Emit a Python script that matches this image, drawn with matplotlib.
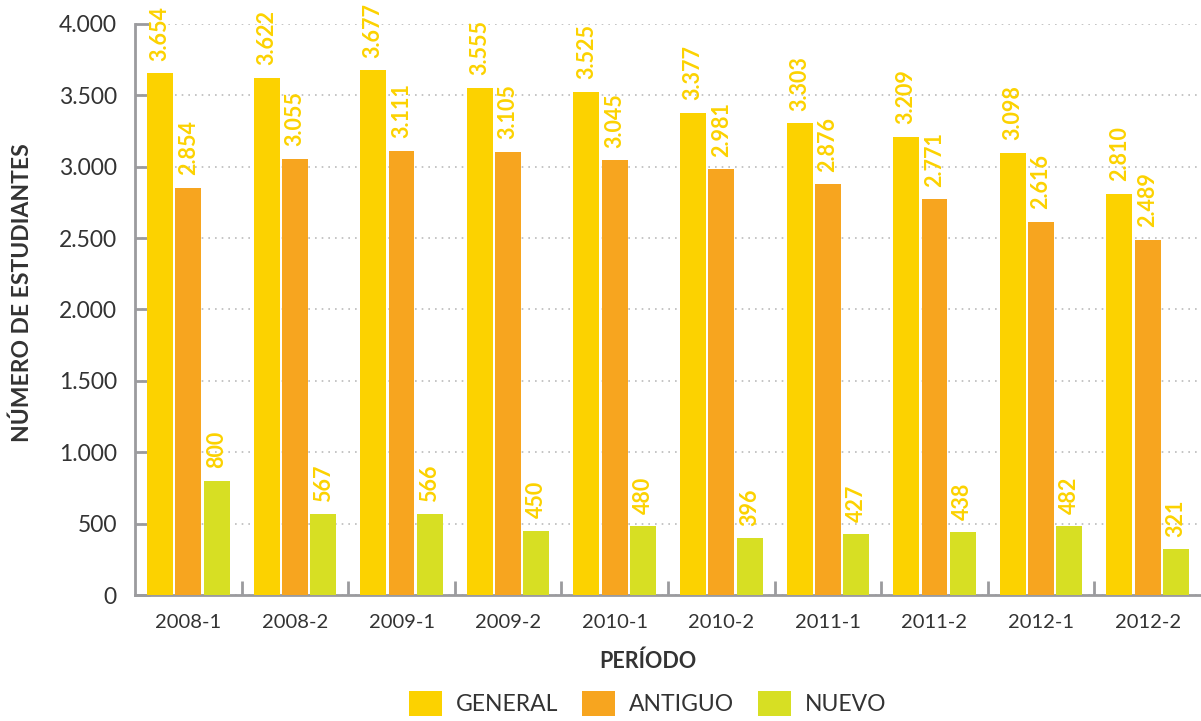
import matplotlib.pyplot as plt
import numpy as np
from matplotlib.patches import Patch
from matplotlib.ticker import FuncFormatter, MultipleLocator

periods = ["2008-1", "2008-2", "2009-1", "2009-2", "2010-1",
           "2010-2", "2011-1", "2011-2", "2012-1", "2012-2"]
general = [3654, 3622, 3677, 3555, 3525, 3377, 3303, 3209, 3098, 2810]
antiguo = [2854, 3055, 3111, 3105, 3045, 2981, 2876, 2771, 2616, 2489]
nuevo = [800, 567, 566, 450, 480, 396, 427, 438, 482, 321]
series_names = ["GENERAL", "ANTIGUO", "NUEVO"]

colors = ["#FCD200", "#F7A51F", "#D7DF23"]
label_color = "#FCD200"
text_color = "#333333"
axis_gray = "#9B9B9E"

plt.rcParams["font.family"] = ["Lato", "DejaVu Sans"]


def thousands(v, _pos=None):
    return f"{int(v):,}".replace(",", ".")


fig = plt.figure(figsize=(12.01, 7.21), dpi=100)
ax = fig.add_axes([135 / 1201, 126 / 721, 1066 / 1201, 571 / 721])

x = np.arange(len(periods))
width = 0.243
step = 0.265
for k, vals in enumerate([general, antiguo, nuevo]):
    pos = x + (k - 1) * step
    ax.bar(pos, vals, width=width, color=colors[k], zorder=3)
    for px, v in zip(pos, vals):
        ax.annotate(thousands(v), (px, v), xytext=(0, 9), textcoords="offset points",
                    rotation=90, ha="center", va="bottom", color=label_color,
                    fontsize=15.5, fontweight="bold", annotation_clip=False)

ax.set_xlim(-0.5, len(periods) - 0.5)
ax.set_ylim(0, 4000)
ax.yaxis.set_major_locator(MultipleLocator(500))
ax.yaxis.set_major_formatter(FuncFormatter(thousands))
ax.set_xticks(x)
ax.set_xticklabels(periods)
ax.set_xticks(np.arange(0.5, len(periods) - 0.5, 1), minor=True)

ax.grid(axis="y", linestyle=(0, (1, 3)), color="#BBBBBB", linewidth=1.2, zorder=0)
for side in ["top", "right"]:
    ax.spines[side].set_visible(False)
for side in ["left", "bottom"]:
    ax.spines[side].set_color(axis_gray)
    ax.spines[side].set_linewidth(2)

ax.tick_params(axis="y", direction="in", length=11, width=2, color=axis_gray,
               labelsize=16.5, labelcolor=text_color, pad=13)
ax.tick_params(axis="x", which="major", length=0, labelsize=14.5,
               labelcolor=text_color, pad=14)
ax.tick_params(axis="x", which="minor", direction="in", length=10, width=2,
               color=axis_gray)

ax.set_ylabel("NÚMERO DE ESTUDIANTES", fontsize=16.5, fontweight="bold",
              color=text_color)
ax.yaxis.set_label_coords(-0.0957, 0.53)
ax.set_xlabel("PERÍODO", fontsize=15.5, fontweight="bold", color=text_color)
ax.xaxis.set_label_coords(0.481, -0.098)

handles = [Patch(facecolor=c, edgecolor="none") for c in colors]
fig.legend(handles, series_names, loc="lower center", bbox_to_anchor=(0.539, -0.022),
           ncol=3, frameon=False, fontsize=16.5, handlelength=1.44, handleheight=1.3,
           columnspacing=1.05, handletextpad=0.6, labelcolor=text_color)

fig.savefig("out.png", dpi=100)
